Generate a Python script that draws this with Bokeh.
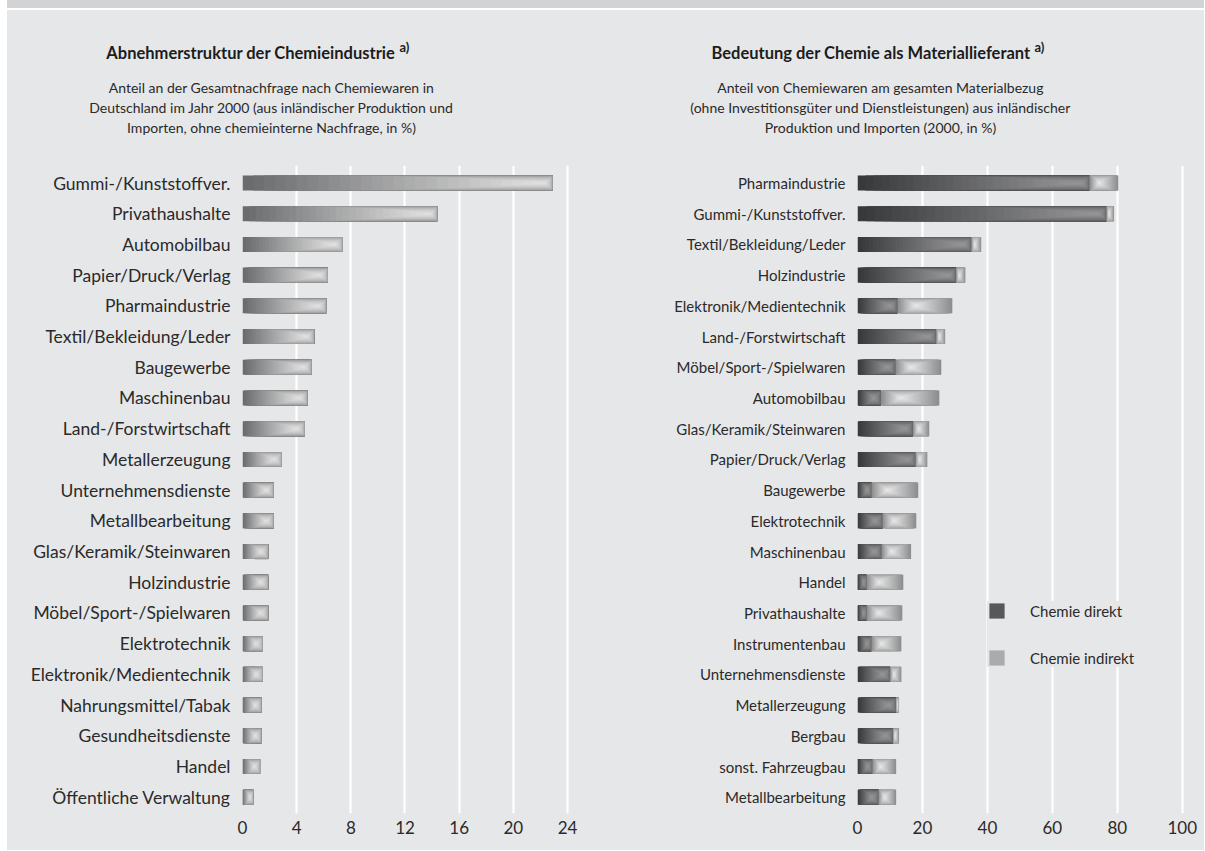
from bokeh.plotting import figure
from bokeh.models import Range1d, FixedTicker, Legend, LegendItem, Div
from bokeh.layouts import row, column
from bokeh.core.properties import value
from bokeh.embed import file_html
from bokeh.resources import INLINE

# ---------------- data ----------------
left_categories = ["Gummi-/Kunststoffver.", "Privathaushalte", "Automobilbau", "Papier/Druck/Verlag",
                   "Pharmaindustrie", "Textil/Bekleidung/Leder", "Baugewerbe", "Maschinenbau",
                   "Land-/Forstwirtschaft", "Metallerzeugung", "Unternehmensdienste", "Metallbearbeitung",
                   "Glas/Keramik/Steinwaren", "Holzindustrie", "Möbel/Sport-/Spielwaren", "Elektrotechnik",
                   "Elektronik/Medientechnik", "Nahrungsmittel/Tabak", "Gesundheitsdienste", "Handel",
                   "Öffentliche Verwaltung"]
left_values = [22.9, 14.4, 7.4, 6.3, 6.2, 5.3, 5.1, 4.8, 4.6, 2.9, 2.3, 2.3, 1.9, 1.9, 1.9,
               1.5, 1.5, 1.4, 1.4, 1.3, 0.8]
left_ticks = [0, 4, 8, 12, 16, 20, 24]

right_categories = ["Pharmaindustrie", "Gummi-/Kunststoffver.", "Textil/Bekleidung/Leder", "Holzindustrie",
                    "Elektronik/Medientechnik", "Land-/Forstwirtschaft", "Möbel/Sport-/Spielwaren",
                    "Automobilbau", "Glas/Keramik/Steinwaren", "Papier/Druck/Verlag", "Baugewerbe",
                    "Elektrotechnik", "Maschinenbau", "Handel", "Privathaushalte", "Instrumentenbau",
                    "Unternehmensdienste", "Metallerzeugung", "Bergbau", "sonst. Fahrzeugbau",
                    "Metallbearbeitung"]
direkt = [71.4, 76.7, 35.1, 30.4, 12.3, 24.3, 11.7, 7.2, 17.1, 17.9, 4.3, 7.7, 7.4, 2.8, 2.8,
          4.3, 10.1, 12.0, 11.0, 4.6, 6.5]
indirekt = [8.9, 2.3, 3.0, 2.8, 16.9, 2.7, 14.1, 18.0, 5.0, 3.6, 14.4, 10.4, 9.1, 11.3, 11.0,
            9.2, 3.4, 0.8, 1.8, 7.3, 5.4]
right_ticks = [0, 20, 40, 60, 80, 100]
legend_labels = ["Chemie direkt", "Chemie indirekt"]

left_title = "Abnehmerstruktur der Chemieindustrie"
left_sub = ["Anteil an der Gesamtnachfrage nach Chemiewaren in",
            "Deutschland im Jahr 2000 (aus inländischer Produktion und",
            "Importen, ohne chemieinterne Nachfrage, in %)"]
right_title = "Bedeutung der Chemie als Materiallieferant"
right_sub = ["Anteil von Chemiewaren am gesamten Materialbezug",
             "(ohne Investitionsgüter und Dienstleistungen) aus inländischer",
             "Produktion und Importen (2000, in %)"]
footnote_mark = "a)"

# ---------------- style ----------------
PANEL = "#e6e7e9"
BAND = "#d2d3d5"
TEXT = "#2a2a2a"
FONT = "Lato"
K = 28
BAR_H = 0.49
FRAME_H = 648
Y_TOP = -0.57
HEAD_H = 155


def lerp(c0, c1, t):
    return "#%02x%02x%02x" % tuple(int(round(a + (b - a) * t)) for a, b in zip(c0, c1))


def draw_bevel(p, starts, ends, edge, hi, mode, px_per_unit):
    ys = list(range(len(starts)))
    mid = None
    for k in range(K):
        t = k / K
        lefts, rights, heights = [], [], []
        for a, b in zip(starts, ends):
            L = b - a
            if mode == "end":
                xf = b - min(8.0 / px_per_unit, 0.35 * L)
                rr = b - (t ** 4) * (b - xf)
                hh = BAR_H * (1 - t ** 3)
            else:
                xf = a + 0.33 * L
                rr = b - t * (b - xf)
                hh = BAR_H * (1 - t ** 2)
            ll = a + t * (xf - a)
            lefts.append(ll)
            rights.append(rr)
            heights.append(hh)
        r = p.hbar(y=ys, left=lefts, right=rights, height=heights,
                   fill_color=lerp(edge, hi, t), line_color=None)
        if k == K // 3:
            mid = r
    return mid


def base_fig(frame_w, border_left, border_right, xmax, ticks, cats, label_size):
    p = figure(frame_width=frame_w, frame_height=FRAME_H,
               min_border_left=border_left, min_border_right=border_right,
               min_border_top=0, min_border_bottom=37,
               x_range=Range1d(0, xmax), y_range=Range1d(Y_TOP + 21.1, Y_TOP),
               output_backend="svg", toolbar_location=None)
    p.background_fill_color = PANEL
    p.border_fill_color = PANEL
    p.outline_line_color = None
    p.xgrid.ticker = FixedTicker(ticks=ticks)
    p.xgrid.grid_line_color = "white"
    p.xgrid.grid_line_width = 2.2
    p.ygrid.grid_line_color = None
    p.xaxis.ticker = FixedTicker(ticks=ticks)
    p.yaxis.ticker = FixedTicker(ticks=list(range(len(cats))))
    p.yaxis.major_label_overrides = {i: c for i, c in enumerate(cats)}
    for ax in (p.xaxis[0], p.yaxis[0]):
        ax.axis_line_color = None
        ax.major_tick_line_color = None
        ax.minor_tick_line_color = None
        ax.major_tick_out = 0
        ax.major_tick_in = 0
        ax.major_label_text_font = FONT
        ax.major_label_text_color = TEXT
    p.yaxis.major_label_standoff = 12
    p.yaxis.major_label_text_font_size = label_size
    p.xaxis.major_label_standoff = 7
    p.xaxis.major_label_text_font_size = "17px"
    return p


def head_fig(x0, x1, title_right_px, sub_center_px, title, subs):
    h = figure(frame_width=x1 - x0, frame_height=HEAD_H, min_border=0,
               x_range=Range1d(x0, x1), y_range=Range1d(10 + HEAD_H, 10),
               x_axis_type=None, y_axis_type=None,
               output_backend="svg", toolbar_location=None)
    h.background_fill_color = PANEL
    h.border_fill_color = PANEL
    h.outline_line_color = None
    h.grid.visible = False
    h.text(x=[title_right_px], y=[52], text=[title], text_align="right",
           text_baseline="middle", text_font=value(FONT), text_font_style="bold",
           text_font_size="16.5px", text_color="#1c1c1c")
    h.text(x=[title_right_px + 4], y=[46], text=[footnote_mark], text_align="left",
           text_baseline="middle", text_font=value(FONT), text_font_style="bold",
           text_font_size="13px", text_color="#1c1c1c")
    h.text(x=[sub_center_px] * len(subs), y=[87 + 20 * i for i in range(len(subs))], text=subs,
           text_align="center", text_baseline="middle", text_font=value(FONT),
           text_font_size="14px", text_color=TEXT)
    return h


# ---------------- left chart ----------------
L_XMAX = 24.37
pl = base_fig(330, 235, 31, L_XMAX, left_ticks, left_categories, "17.5px")
ppl = 330 / L_XMAX
draw_bevel(pl, [0.0] * len(left_values), left_values,
           (0x6a, 0x6b, 0x6d), (0xe4, 0xe4, 0xe4), "end", ppl)
hl = head_fig(7, 603, 395, 271, left_title, left_sub)

# ---------------- right chart ----------------
R_XMAX = 101.3
pr = base_fig(329, 254, 18, R_XMAX, right_ticks, right_categories, "15px")
ppr = 329 / R_XMAX
totals = [d + i for d, i in zip(direkt, indirekt)]
r_dir = draw_bevel(pr, [0.0] * len(direkt), direkt,
                   (0x38, 0x39, 0x3b), (0x98, 0x98, 0x99), "end", ppr)
r_ind = draw_bevel(pr, direkt, totals,
                   (0x8c, 0x8d, 0x8f), (0xea, 0xea, 0xea), "start", ppr)
hr = head_fig(603, 1204, 1030, 880, right_title, right_sub)

legend = Legend(items=[LegendItem(label=legend_labels[0], renderers=[r_dir]),
                       LegendItem(label=legend_labels[1], renderers=[r_ind])],
                location=(130, 146), orientation="vertical",
                glyph_width=19, glyph_height=19, label_standoff=24, spacing=28,
                padding=15, margin=0,
                label_text_font=FONT, label_text_font_size="15px", label_text_color=TEXT,
                background_fill_color=PANEL, background_fill_alpha=1.0,
                border_line_color=None)
pr.add_layout(legend)

band = Div(text="", width=1197, height=8, margin=(0, 0, 2, 7),
           styles={"background-color": BAND})
heads = row(hl, hr, margin=(0, 0, 0, 7), styles={"background-color": PANEL})
charts = row(pl, pr, margin=(0, 0, 0, 7), styles={"background-color": PANEL})
layout = column(band, heads, charts)

open("out.html", "w").write(file_html(layout, INLINE))
